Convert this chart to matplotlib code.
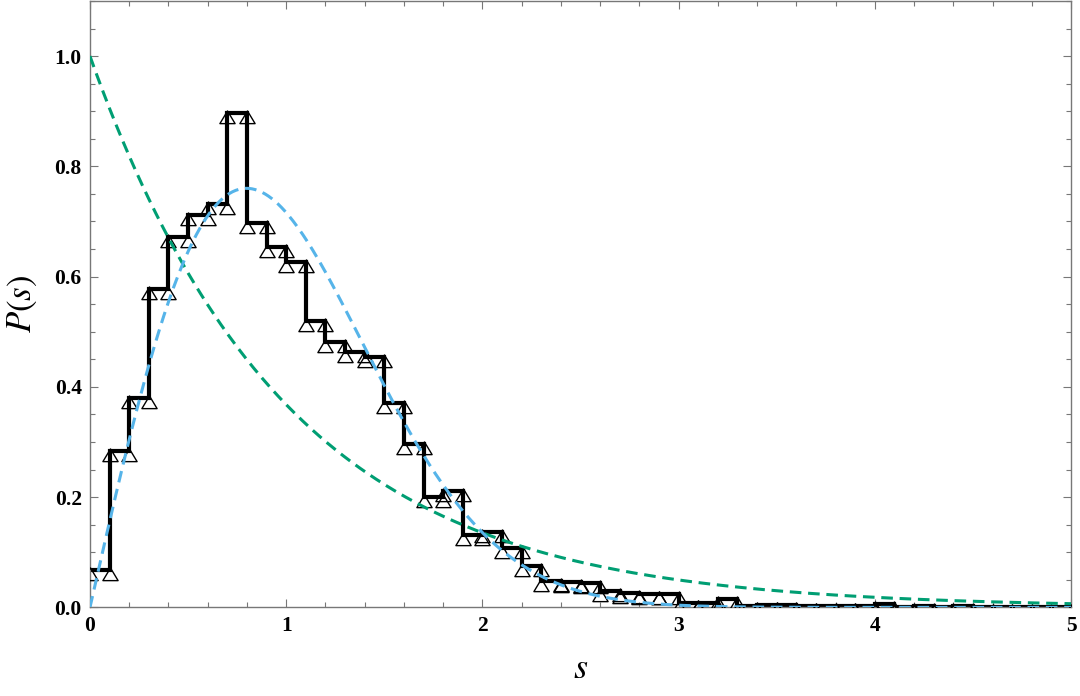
import numpy as np
import matplotlib
matplotlib.use("Agg")
import matplotlib.pyplot as plt
from matplotlib.path import Path
from matplotlib.ticker import MultipleLocator

# histogram of level spacings, bin width 0.1 from 0 to 5
bin_width = 0.1
bin_heights = [
    0.067, 0.283, 0.379, 0.578, 0.671, 0.711, 0.731, 0.896, 0.697, 0.653,
    0.627, 0.519, 0.481, 0.463, 0.454, 0.371, 0.296, 0.200, 0.211, 0.131,
    0.137, 0.108, 0.076, 0.048, 0.046, 0.045, 0.030, 0.027, 0.024, 0.024,
    0.008, 0.008, 0.015, 0.002, 0.005, 0.005, 0.002, 0.002, 0.002, 0.002,
    0.006, 0.001, 0.002, 0.001, 0.002, 0.001, 0.001, 0.001, 0.001, 0.001,
]
x_ticks = [0, 1, 2, 3, 4, 5]
y_ticks = [0.0, 0.2, 0.4, 0.6, 0.8, 1.0]

bin_left = np.arange(len(bin_heights)) * bin_width
bin_right = bin_left + bin_width

# each bin drawn at both its edges
step_x = np.column_stack([bin_left, bin_right]).ravel()
step_y = np.repeat(bin_heights, 2)

# reference curves: Poisson and Wigner (GOE) surmise
s = np.linspace(0, 5, 600)
poisson = np.exp(-s)
wigner = np.pi / 2 * s * np.exp(-np.pi * s**2 / 4)

plt.rcParams['mathtext.fontset'] = 'stix'

fig = plt.figure(figsize=(10.8, 6.96), dpi=100)
ax = fig.add_axes([0.0833, 0.1273, 0.9084, 0.8713])

# triangle with its apex just above the data point
tri = Path([(0, 0.25), (-0.75, -1), (0.75, -1), (0, 0.25)],
           [Path.MOVETO, Path.LINETO, Path.LINETO, Path.CLOSEPOLY])

ax.plot(step_x, step_y, color='black', lw=3.0, solid_joinstyle='miter', zorder=2)
ax.plot(step_x, step_y, ls='none', marker=tri, ms=14.6, mfc='none',
        mec='black', mew=1.0, zorder=3)

ax.plot(s, poisson, color='#009E73', lw=2.2, dashes=(3.8, 2.2), zorder=4)
ax.plot(s, wigner, color='#56B4E9', lw=2.2, dashes=(3.8, 2.2), zorder=4)

ax.set_xlim(0, 5)
ax.set_ylim(0, 1.1)
ax.set_xticks(x_ticks)
ax.set_yticks(y_ticks)
ax.set_yticklabels(["%.1f" % v for v in y_ticks])
ax.xaxis.set_minor_locator(MultipleLocator(0.2))
ax.yaxis.set_minor_locator(MultipleLocator(0.05))

for sp in ax.spines.values():
    sp.set_color('#777777')
    sp.set_linewidth(1.0)

ax.tick_params(which='both', direction='in', top=True, right=True,
               color='#777777', width=0.8)
ax.tick_params(which='major', length=6)
ax.tick_params(which='minor', length=3.5)
ax.tick_params(axis='x', pad=6)
ax.tick_params(axis='y', pad=6)
for lab in ax.get_xticklabels() + ax.get_yticklabels():
    lab.set_fontfamily('Liberation Serif')
    lab.set_fontweight('bold')
    lab.set_fontsize(15.5)

ax.set_xlabel('$s$', fontsize=26, labelpad=11)
ax.set_ylabel('$P(s)$', fontsize=25, labelpad=11)

fig.savefig('out.png', dpi=100)
